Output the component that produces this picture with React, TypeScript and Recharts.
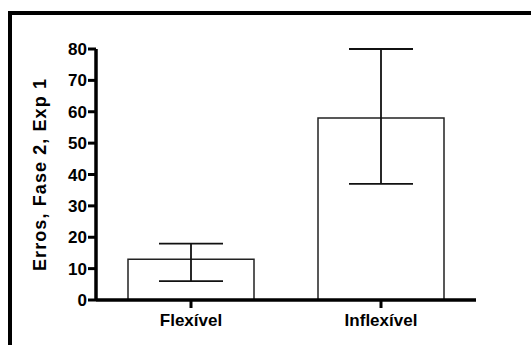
import React from "react";
import { BarChart, Bar, XAxis, YAxis, ErrorBar } from "recharts";

// group names and values
const categories = ["Flexível", "Inflexível"];
const means = [13, 58];
const errLow = [7, 21];
const errHigh = [5, 22];
const yTicks = [0, 10, 20, 30, 40, 50, 60, 70, 80];

const data = categories.map((name, i) => ({
  name,
  value: means[i],
  err: [errLow[i], errHigh[i]],
}));

const font = "'Liberation Sans', Arial, sans-serif";

export default function App() {
  return (
    <div
      style={{
        position: "absolute",
        left: 0,
        top: 0,
        width: 531,
        height: 345,
        overflow: "hidden",
        background: "#fff",
        fontFamily: font,
      }}
    >
      {/* frame */}
      <div
        style={{
          position: "absolute",
          left: 8,
          top: 11,
          width: 600,
          height: 400,
          borderTop: "4px solid #000",
          borderLeft: "4px solid #000",
        }}
      />
      <div style={{ position: "absolute", left: 0, top: 0 }}>
        <BarChart
          width={531}
          height={345}
          data={data}
          margin={{ top: 49, right: 55, bottom: 5, left: 0 }}
          barCategoryGap={32}
        >
          <XAxis
            dataKey="name"
            height={40}
            axisLine={{ stroke: "#000", strokeWidth: 3.5 }}
            tickLine={{ stroke: "#000", strokeWidth: 3 }}
            tickSize={8}
            tickMargin={6}
            tick={{ fill: "#000", fontSize: 17, fontWeight: 700, fontFamily: font }}
          />
          <YAxis
            width={96}
            domain={[0, 80]}
            ticks={yTicks}
            interval={0}
            axisLine={{ stroke: "#000", strokeWidth: 3.5 }}
            tickLine={{ stroke: "#000", strokeWidth: 3 }}
            tickSize={8}
            tickMargin={1}
            tick={{ fill: "#000", fontSize: 17, fontWeight: 700, fontFamily: font }}
            label={{
              value: "Erros, Fase 2, Exp 1",
              angle: -90,
              position: "insideLeft",
              offset: 0,
              dx: 40,
              style: {
                fill: "#000",
                fontSize: 18,
                fontWeight: 700,
                fontFamily: font,
                letterSpacing: 1.1,
                textAnchor: "middle",
              },
            }}
          />
          <Bar
            dataKey="value"
            fill="#fff"
            stroke="#222"
            strokeWidth={1.5}
            isAnimationActive={false}
          >
            <ErrorBar
              dataKey="err"
              direction="y"
              width={32}
              stroke="#111"
              strokeWidth={1.8}
              isAnimationActive={false}
            />
          </Bar>
        </BarChart>
      </div>
    </div>
  );
}
